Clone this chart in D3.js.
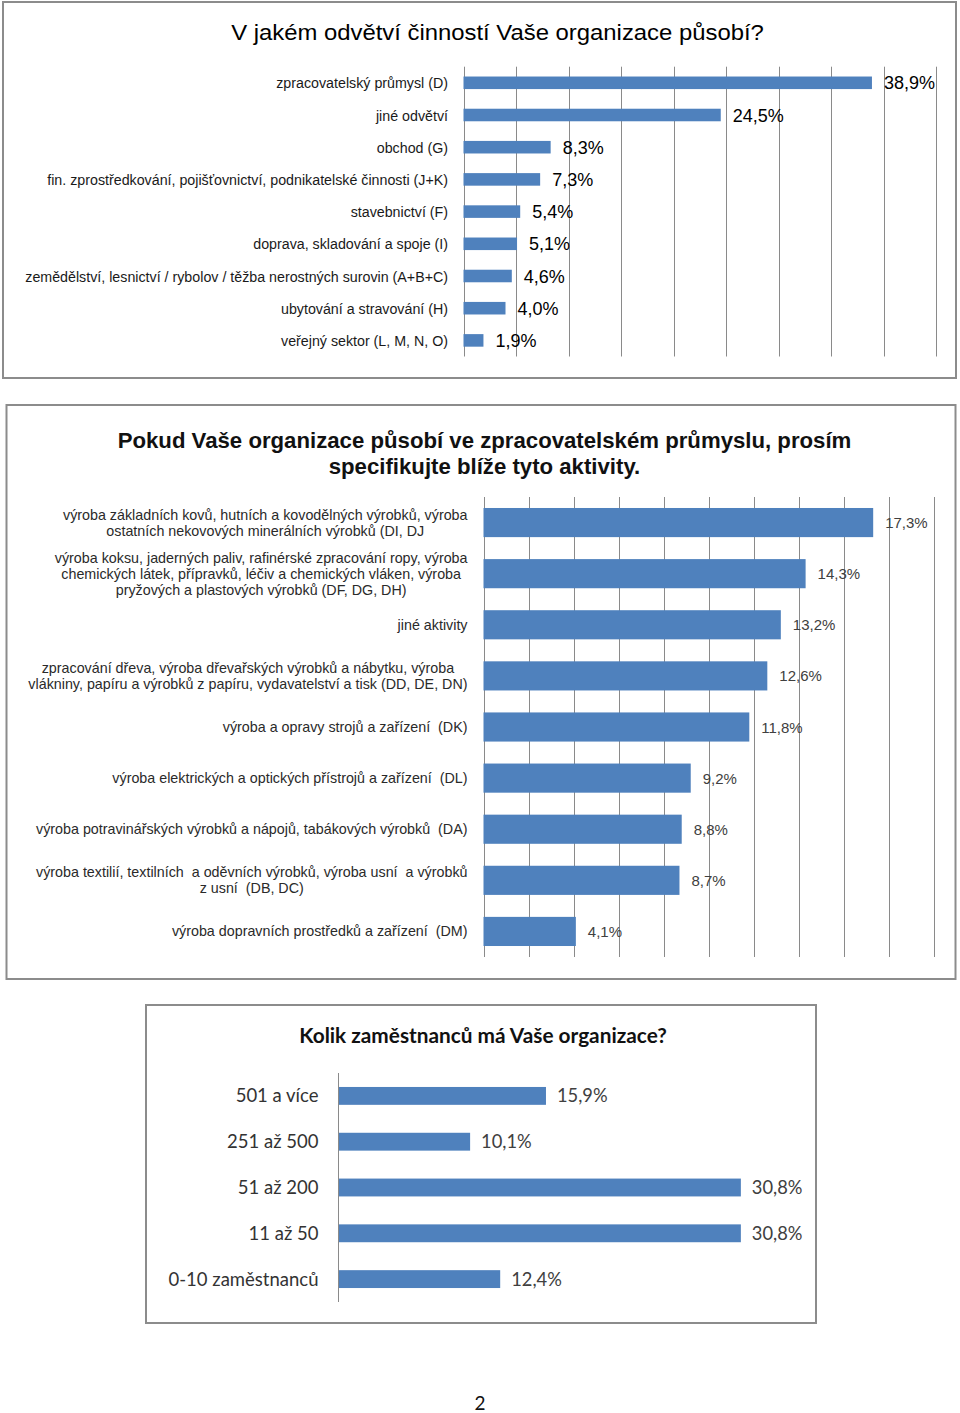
<!DOCTYPE html>
<html><head><meta charset="utf-8">
<script src="https://cdn.jsdelivr.net/npm/d3@7"></script>
<style>body{margin:0;background:#fff} svg{display:block}</style>
</head><body>
<svg id="c" width="960" height="1413"></svg>
<script>
// ---------- data ----------
const title1 = "V jakém odvětví činností Vaše organizace působí?";
const cats1 = [
  "zpracovatelský průmysl (D)",
  "jiné odvětví",
  "obchod (G)",
  "fin. zprostředkování, pojišťovnictví, podnikatelské činnosti (J+K)",
  "stavebnictví (F)",
  "doprava, skladování a spoje (I)",
  "zemědělství, lesnictví / rybolov / těžba nerostných surovin (A+B+C)",
  "ubytování a stravování (H)",
  "veřejný sektor (L, M, N, O)"
];
const vals1 = [38.9, 24.5, 8.3, 7.3, 5.4, 5.1, 4.6, 4.0, 1.9];
const ticks1 = [0, 5, 10, 15, 20, 25, 30, 35, 40, 45];

const title2 = ["Pokud Vaše organizace působí ve zpracovatelském průmyslu, prosím",
                "specifikujte blíže tyto aktivity."];
const cats2 = [
  "výroba základních kovů, hutních a kovodělných výrobků, výroba\nostatních nekovových minerálních výrobků (DI, DJ",
  "výroba koksu, jaderných paliv, rafinérské zpracování ropy, výroba\nchemických látek, přípravků, léčiv a chemických vláken, výroba\npryžových a plastových výrobků (DF, DG, DH)",
  "jiné aktivity",
  "zpracování dřeva, výroba dřevařských výrobků a nábytku, výroba\nvlákniny, papíru a výrobků z papíru, vydavatelství a tisk (DD, DE, DN)",
  "výroba a opravy strojů a zařízení  (DK)",
  "výroba elektrických a optických přístrojů a zařízení  (DL)",
  "výroba potravinářských výrobků a nápojů, tabákových výrobků  (DA)",
  "výroba textilií, textilních  a oděvních výrobků, výroba usní  a výrobků\nz usní  (DB, DC)",
  "výroba dopravních prostředků a zařízení  (DM)"
];
const vals2 = [17.3, 14.3, 13.2, 12.6, 11.8, 9.2, 8.8, 8.7, 4.1];
const ticks2 = [0, 2, 4, 6, 8, 10, 12, 14, 16, 18, 20];

const title3 = "Kolik zaměstnanců má Vaše organizace?";
const cats3 = ["501 a více", "251 až 500", "51 až 200", "11 až 50", "0-10 zaměstnanců"];
const vals3 = [15.9, 10.1, 30.8, 30.8, 12.4];

const pageNumber = "2";

// ---------- drawing ----------
const svg = d3.select("#c");
const BLUE = "#4f81bd";
const GRID = "#8a8a8a";
const BORDER = "#8c8c8c";
const ARIAL = "'Liberation Sans', Arial, sans-serif";
const CALIBRI = "Lato, 'Open Sans', sans-serif";
const fmt = v => v.toFixed(1).replace(".", ",") + "%";

function frame(x0, y0, x1, y1) {
  svg.append("rect").attr("x", x0).attr("y", y0)
    .attr("width", x1 - x0).attr("height", y1 - y0)
    .attr("fill", "none").attr("stroke", BORDER).attr("stroke-width", 2);
}

// ===== Chart 1 =====
frame(3, 2, 956, 378);
{
  const g = svg.append("g");
  const x = d3.scaleLinear().domain([0, 45]).range([463.5, 936]);
  const y = d3.scaleBand().domain(cats1).range([66.7, 356.5]).paddingInner(0.61).paddingOuter(0.305);

  const t = g.append("text").text(title1)
    .attr("font-family", ARIAL).attr("font-size", 22).attr("fill", "#000")
    .attr("text-anchor", "middle");
  const tw = t.node().getComputedTextLength();
  t.attr("transform", `translate(497.5,40) scale(${533 / tw},1)`);

  g.selectAll("line.grid").data(ticks1).join("line")
    .attr("x1", d => Math.round(x(d)) + 0.5).attr("x2", d => Math.round(x(d)) + 0.5)
    .attr("y1", 66.7).attr("y2", 356.5)
    .attr("stroke", GRID).attr("stroke-width", 1);

  g.selectAll("rect.bar").data(vals1).join("rect")
    .attr("x", x(0)).attr("y", (d, i) => y(cats1[i]))
    .attr("width", d => x(d) - x(0)).attr("height", y.bandwidth())
    .attr("fill", BLUE);

  g.selectAll("text.cat").data(cats1).join("text")
    .text(d => d)
    .attr("font-family", ARIAL).attr("font-size", 15.5).attr("fill", "#1a1a1a")
    .attr("text-anchor", "end")
    .attr("transform", d => `translate(448,${y(d) + y.bandwidth() / 2 + 5.5}) scale(0.92,1)`);

  g.selectAll("text.val").data(vals1).join("text")
    .text(d => fmt(d))
    .attr("font-family", ARIAL).attr("font-size", 18).attr("fill", "#000")
    .attr("x", d => x(d) + 12)
    .attr("y", (d, i) => y(cats1[i]) + y.bandwidth() / 2 + 6.5);
}

// ===== Chart 2 =====
frame(6.5, 405, 955.5, 979);
{
  const g = svg.append("g");
  const x = d3.scaleLinear().domain([0, 20]).range([483.5, 934]);
  const y = d3.scaleBand().domain(cats2).range([497, 957]).paddingInner(0.43).paddingOuter(0.215);

  g.selectAll("text.title").data(title2).join("text")
    .text(d => d)
    .attr("font-family", ARIAL).attr("font-size", 22.2).attr("font-weight", "bold").attr("fill", "#111")
    .attr("text-anchor", "middle")
    .attr("x", 484.5).attr("y", (d, i) => 448 + i * 26);

  g.selectAll("line.grid").data(ticks2).join("line")
    .attr("x1", d => Math.round(x(d)) + 0.5).attr("x2", d => Math.round(x(d)) + 0.5)
    .attr("y1", 497).attr("y2", 957)
    .attr("stroke", GRID).attr("stroke-width", 1);

  g.selectAll("rect.bar").data(vals2).join("rect")
    .attr("x", x(0)).attr("y", (d, i) => y(cats2[i]))
    .attr("width", d => x(d) - x(0)).attr("height", y.bandwidth())
    .attr("fill", BLUE);

  const lh = 16;
  cats2.forEach(c => {
    const lines = c.split("\n");
    const cy = y(c) + y.bandwidth() / 2;
    const tg = g.append("g");
    const ts = tg.selectAll("text").data(lines).join("text")
      .text(d => d)
      .attr("font-family", ARIAL).attr("font-size", 14.3).attr("fill", "#2a2a2a")
      .attr("text-anchor", "middle").style("white-space", "pre")
      .attr("y", (d, i) => cy + (i - (lines.length - 1) / 2) * lh + 5);
    let mw = 0;
    ts.each(function () { mw = Math.max(mw, this.getComputedTextLength()); });
    ts.attr("x", 467.5 - mw / 2);
  });

  g.selectAll("text.val").data(vals2).join("text")
    .text(d => fmt(d))
    .attr("font-family", ARIAL).attr("font-size", 15).attr("fill", "#404040")
    .attr("x", d => x(d) + 12)
    .attr("y", (d, i) => y(cats2[i]) + y.bandwidth() / 2 + 5.5);
}

// ===== Chart 3 =====
frame(146, 1005, 816, 1323);
{
  const g = svg.append("g");
  const x = d3.scaleLinear().domain([0, 35]).range([338, 795.8]);
  const y = d3.scaleBand().domain(cats3).range([1073, 1302]).paddingInner(0.61).paddingOuter(0.305);

  g.append("text").text(title3)
    .attr("font-family", CALIBRI).attr("font-size", 20.8).attr("font-weight", 700).attr("fill", "#111")
    .attr("text-anchor", "middle").attr("x", 483).attr("y", 1043);

  g.selectAll("rect.bar").data(vals3).join("rect")
    .attr("x", x(0)).attr("y", (d, i) => y(cats3[i]))
    .attr("width", d => x(d) - x(0)).attr("height", y.bandwidth())
    .attr("fill", BLUE);

  g.append("line").attr("x1", 338.5).attr("x2", 338.5).attr("y1", 1073).attr("y2", 1302)
    .attr("stroke", GRID).attr("stroke-width", 1);

  g.selectAll("text.cat").data(cats3).join("text")
    .text(d => d)
    .attr("font-family", CALIBRI).attr("font-size", 18.5).attr("fill", "#333")
    .attr("text-anchor", "end").attr("x", 318.5)
    .attr("y", d => y(d) + y.bandwidth() / 2 + 6.5);

  g.selectAll("text.val").data(vals3).join("text")
    .text(d => fmt(d))
    .attr("font-family", CALIBRI).attr("font-size", 18.3).attr("fill", "#404040")
    .attr("x", d => x(d) + 11)
    .attr("y", (d, i) => y(cats3[i]) + y.bandwidth() / 2 + 6.5);
}

svg.append("text").text(pageNumber)
  .attr("font-family", CALIBRI).attr("font-size", 19).attr("fill", "#111")
  .attr("text-anchor", "middle").attr("x", 480).attr("y", 1410);
</script>
</body></html>
